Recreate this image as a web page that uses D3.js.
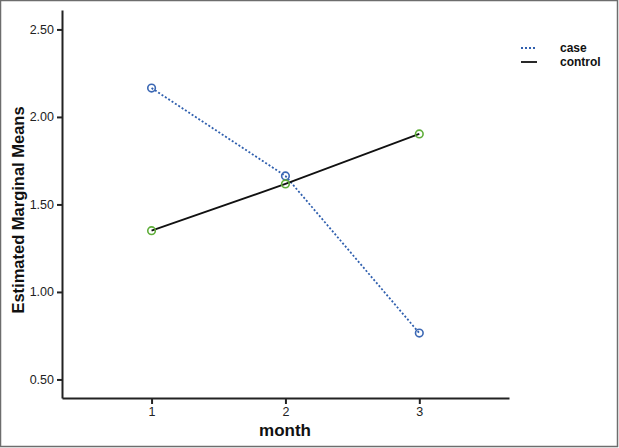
<!DOCTYPE html>
<html>
<head>
<meta charset="utf-8">
<script src="https://cdn.jsdelivr.net/npm/d3@7"></script>
<style>
  body { margin: 0; background: #fff; }
  svg { display: block; font-family: "Liberation Sans", Arial, sans-serif; }
</style>
</head>
<body>
<svg id="chart" width="619" height="448"></svg>
<script>
var months = [1, 2, 3],
	caseMeans = [2.165, 1.663, 0.765],
	controlMeans = [1.35, 1.617, 1.903],
	yTicks = [0.5, 1.0, 1.5, 2.0, 2.5],
	seriesNames = ["case", "control"];

var svg = d3.select('#chart');

var x = d3.scaleLinear().domain([0.331, 3.67]).range([62, 509]),
	y = d3.scaleLinear().domain([0.394, 2.611]).range([398, 10]);

// frame round the picture
svg.append('rect')
	.attr('x', 0.5).attr('y', 0.5)
	.attr('width', 617).attr('height', 446)
	.attr('fill', 'none')
	.attr('stroke', '#6d6d6d')
	.attr('stroke-width', 1.5);

// axes
var yAxis = svg.append('g')
	.attr('transform', 'translate(62,0)')
	.call(d3.axisLeft(y).tickValues(yTicks).tickSize(5).tickSizeOuter(0).tickFormat(d3.format('.2f')));

var xAxis = svg.append('g')
	.attr('transform', 'translate(0,398)')
	.call(d3.axisBottom(x).tickValues(months).tickSize(6).tickSizeOuter(0).tickFormat(d3.format('d')));

[yAxis, xAxis].forEach(function(a) {
	a.select('.domain').attr('stroke', '#222').attr('stroke-width', 2);
	a.selectAll('.tick line').attr('stroke', '#222').attr('stroke-width', 2);
	a.selectAll('.tick text').attr('fill', '#222').style('font-size', '12.5px');
});
yAxis.selectAll('.tick text').attr('x', -8);
xAxis.selectAll('.tick text').attr('y', 9);

// axis titles
svg.append('text')
	.attr('x', 285).attr('y', 436)
	.attr('text-anchor', 'middle')
	.style('font-size', '17px').style('font-weight', 'bold')
	.attr('fill', '#111')
	.text('month');

svg.append('text')
	.attr('transform', 'translate(24,210) rotate(-90)')
	.attr('text-anchor', 'middle')
	.style('font-size', '16.5px').style('font-weight', 'bold')
	.attr('fill', '#111')
	.text('Estimated Marginal Means');

var line = d3.line()
	.x(function(d) { return x(d.m); })
	.y(function(d) { return y(d.v); });

var series = [
	{ name: seriesNames[0], values: caseMeans, stroke: '#2f5fae', dash: '2,2', marker: '#3c68b4', width: 1.8 },
	{ name: seriesNames[1], values: controlMeans, stroke: '#111', dash: null, marker: '#5fae3a', width: 1.8 }
];

series.forEach(function(s) {
	var pts = months.map(function(m, i) { return { m: m, v: s.values[i] }; });
	svg.append('path')
		.datum(pts)
		.attr('d', line)
		.attr('fill', 'none')
		.attr('stroke', s.stroke)
		.attr('stroke-width', s.width)
		.attr('stroke-dasharray', s.dash);
});

// markers last so they sit on top
series.forEach(function(s) {
	svg.selectAll(null)
		.data(months.map(function(m, i) { return { m: m, v: s.values[i] }; }))
		.enter().append('circle')
		.attr('cx', function(d) { return x(d.m); })
		.attr('cy', function(d) { return y(d.v); })
		.attr('r', 3.8)
		.attr('fill', 'none')
		.attr('stroke', s.marker)
		.attr('stroke-width', 1.6);
});

// legend
var legend = svg.append('g').attr('transform', 'translate(521,48)');
series.forEach(function(s, i) {
	var g = legend.append('g').attr('transform', 'translate(0,' + (i * 14) + ')');
	g.append('line')
		.attr('x1', 0).attr('x2', 16)
		.attr('stroke', s.stroke)
		.attr('stroke-width', s.width)
		.attr('stroke-dasharray', s.dash);
	g.append('text')
		.attr('x', 39).attr('y', 4)
		.style('font-size', '12px').style('font-weight', 'bold')
		.attr('fill', '#111')
		.text(s.name);
});
</script>
</body>
</html>
